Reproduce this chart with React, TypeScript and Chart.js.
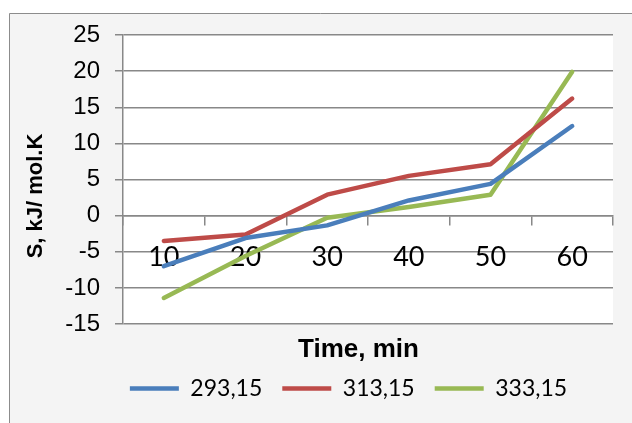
import React, { useEffect, useRef } from 'react';
import { Chart, registerables } from 'chart.js';

Chart.register(...registerables);

// Time points (min)
const timeLabels = ['10', '20', '30', '40', '50', '60'];

// Series names: temperature, K
const seriesNames = ['293,15', '313,15', '333,15'];

// Entropy values, kJ/(mol·K)
const s293 = [-7.0, -3.1, -1.35, 2.1, 4.4, 12.4];
const s313 = [-3.5, -2.6, 2.9, 5.5, 7.1, 16.2];
const s333 = [-11.4, -5.6, -0.3, 1.2, 2.9, 19.9];

const yMin = -15;
const yMax = 25;
const yStep = 5;

const yTitle = 'S, kJ/ mol.K';
const xTitle = 'Time, min';

const seriesColors = ['#4A7EBB', '#BE4B48', '#98B954'];
const gridColor = '#888888';

const framePlugin = {
  id: 'frame',
  beforeDraw(chart: any) {
    const { ctx, chartArea: a, width, height } = chart;
    ctx.save();
    ctx.fillStyle = '#ffffff';
    ctx.fillRect(0, 0, width, height);
    ctx.fillStyle = '#f4f4f4';
    ctx.fillRect(9, 13, width - 9, height - 13);
    ctx.strokeStyle = '#8c8c8c';
    ctx.lineWidth = 1;
    ctx.beginPath();
    ctx.moveTo(9.5, height);
    ctx.lineTo(9.5, 13.5);
    ctx.lineTo(width, 13.5);
    ctx.stroke();
    ctx.fillStyle = '#ffffff';
    ctx.fillRect(a.left, a.top, a.right - a.left, a.bottom - a.top);
    ctx.restore();
  },
  afterDraw(chart: any) {
    const { ctx } = chart;
    ctx.save();
    ctx.fillStyle = '#000000';
    ctx.textAlign = 'center';
    ctx.textBaseline = 'middle';
    // vertical axis title
    ctx.font = 'bold 22px "Liberation Sans", Arial, sans-serif';
    ctx.translate(36, 196);
    ctx.rotate(-Math.PI / 2);
    ctx.fillText(yTitle, 0, 0);
    ctx.setTransform(1, 0, 0, 1, 0, 0);
    // horizontal axis title
    ctx.font = 'bold 26px "Liberation Sans", Arial, sans-serif';
    ctx.fillText(xTitle, 358.5, 350);
    ctx.restore();
  },
};

export default function App() {
  const canvasRef = useRef<HTMLCanvasElement | null>(null);

  useEffect(() => {
    const canvas = canvasRef.current;
    if (!canvas) return;
    const series = [s293, s313, s333];
    const chart = new Chart(canvas, {
      type: 'line',
      data: {
        labels: timeLabels,
        datasets: series.map((values, i) => ({
          label: seriesNames[i],
          data: values,
          borderColor: seriesColors[i],
          backgroundColor: seriesColors[i],
          borderWidth: 4.5,
          borderCapStyle: 'round',
          borderJoinStyle: 'round',
          pointRadius: 0,
          tension: 0,
          fill: false,
          xAxisID: 'x',
          yAxisID: 'y',
        })),
      },
      options: {
        responsive: false,
        animation: false,
        devicePixelRatio: 1,
        layout: { padding: { left: 65, right: 0, top: 35, bottom: 13 } },
        scales: {
          x: {
            type: 'category',
            axis: 'x',
            position: { y: 0 },
            offset: true,
            grid: {
              display: true,
              drawOnChartArea: false,
              drawTicks: true,
              tickLength: 9,
              offset: true,
              color: gridColor,
              lineWidth: 1.5,
            },
            border: { display: true, color: gridColor, width: 1.5 },
            ticks: {
              color: '#000000',
              font: { family: 'Lato', size: 27 },
              padding: 16,
              maxRotation: 0,
              autoSkip: false,
            },
          },
          xSpacer: {
            type: 'category',
            axis: 'x',
            position: 'bottom',
            display: true,
            grid: { display: false, drawTicks: false },
            border: { display: false },
            ticks: { display: false },
            afterFit(scale: any) {
              scale.height = 33;
            },
          },
          y: {
            type: 'linear',
            axis: 'y',
            position: 'left',
            min: yMin,
            max: yMax,
            ticks: {
              stepSize: yStep,
              color: '#000000',
              font: { family: 'Liberation Sans', size: 24 },
              padding: 15,
            },
            grid: { color: gridColor, lineWidth: 1.5, tickLength: 8, drawTicks: true },
            border: { display: true, color: gridColor, width: 1.5 },
            afterFit(scale: any) {
              scale.width = 58;
            },
          },
          ySpacer: {
            type: 'linear',
            axis: 'y',
            position: 'right',
            display: true,
            grid: { display: false, drawTicks: false },
            border: { display: false },
            ticks: { display: false },
            afterFit(scale: any) {
              scale.width = 19;
            },
          },
        },
        plugins: {
          legend: {
            display: true,
            position: 'bottom',
            labels: {
              usePointStyle: true,
              pointStyle: 'line',
              pointStyleWidth: 49,
              color: '#000000',
              font: { family: 'Lato', size: 23 },
              padding: 20,
            },
          },
          tooltip: { enabled: false },
        },
      },
      plugins: [framePlugin],
    } as any);
    return () => chart.destroy();
  }, []);

  return (
    <div style={{ position: 'absolute', left: 0, top: 0, width: 632, height: 423, overflow: 'hidden' }}>
      <canvas ref={canvasRef} width={632} height={423} style={{ display: 'block', width: 632, height: 423 }} />
    </div>
  );
}
